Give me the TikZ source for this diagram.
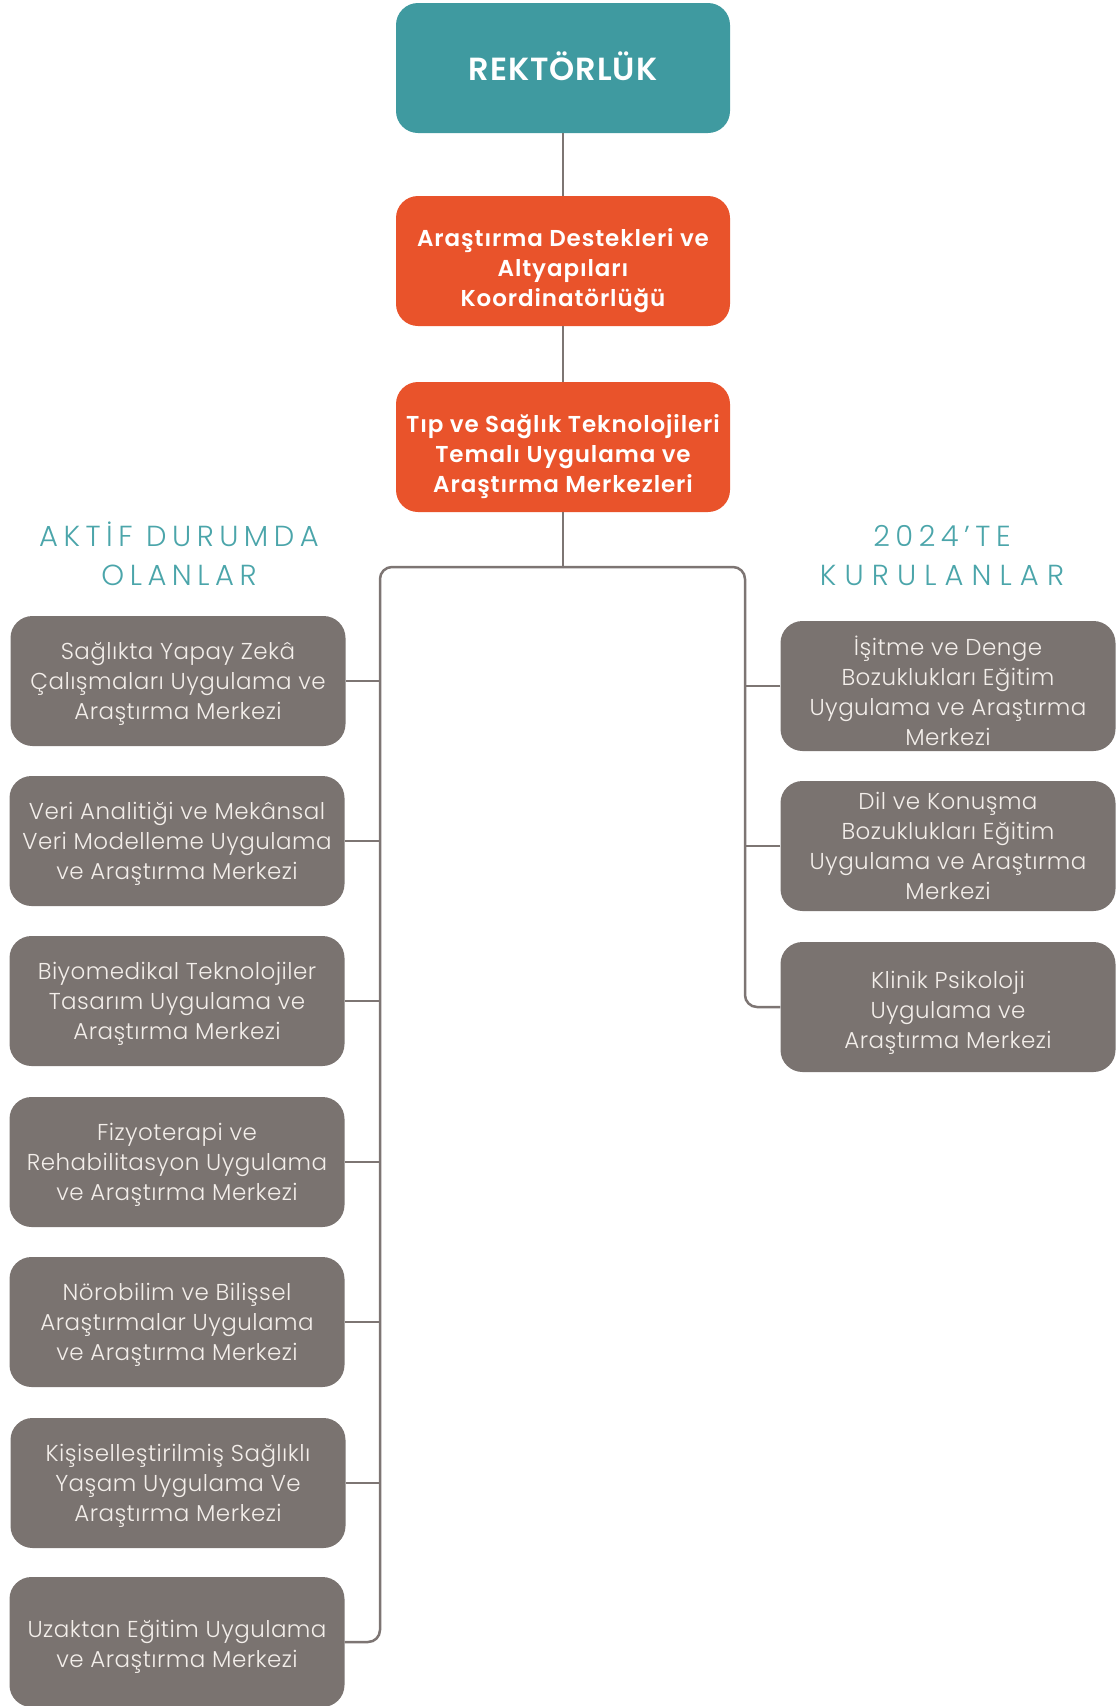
\documentclass[tikz,border=0pt]{standalone}
\usepackage{fontspec}
\setmainfont{Poppins}
\newfontfamily\lightfont{Poppins Light}[LetterSpace=2]
\newfontfamily\semifont{Poppins SemiBold}[LetterSpace=4]
\newfontfamily\rektfont{Poppins SemiBold}[LetterSpace=3]
\newfontfamily\headfont{Poppins Light}[LetterSpace=19]
\newfontfamily\wideheadfont{Poppins Light}[LetterSpace=28]
\newcommand{\lift}[1]{\rule{0pt}{#1pt}}
\definecolor{rektcol}{HTML}{3F9AA0}
\definecolor{orgcol}{HTML}{E9532B}
\definecolor{boxcol}{HTML}{7A7370}
\definecolor{txtcol}{HTML}{F3EEEA}
\definecolor{headcol}{HTML}{4BA5AA}
\definecolor{linecol}{HTML}{7D7573}
\tikzset{
  basebox/.style={rounded corners=22pt, align=center, inner sep=0pt, minimum height=130pt},
  rektbox/.style={basebox, fill=rektcol, text=white, minimum width=334pt, font=\rektfont\fontsize{32}{36}\selectfont},
  unitbox/.style={basebox, fill=orgcol, text=white, minimum width=334pt, font=\semifont\fontsize{23}{30}\selectfont},
  centrebox/.style={basebox, fill=boxcol, text=txtcol, minimum width=335pt, font=\lightfont\fontsize{23}{30}\selectfont},
  headtext/.style={text=headcol, align=center, font=\headfont\fontsize{29}{39}\selectfont},
  conn/.style={draw=linecol, line width=2.5pt}
}
\begin{document}
\begin{tikzpicture}[x=1pt,y=-1pt]
\useasboundingbox (0,0) rectangle (1116,1706);
\node[rektbox] (rekt) at (563,68) {\raisebox{3pt}{REKTÖRLÜK}};
\node[unitbox] (adak) at (563,261) {\lift{37}Araştırma Destekleri ve\\Altyapıları\\Koordinatörlüğü};
\node[unitbox] (tsm) at (563,447) {\lift{37}Tıp ve Sağlık Teknolojileri\\Temalı Uygulama ve\\Araştırma Merkezleri};

\node[headtext] (aktif) at (179,554) {AKTİF DURUMDA\\OLANLAR};
\node[headtext] (yeni) at (942,556) {2024’TE\\\wideheadfont KURULANLAR};

\node[centrebox] (l1) at (178,681) {\lift{22}Sağlıkta Yapay Zekâ\\Çalışmaları Uygulama ve\\Araştırma Merkezi};
\node[centrebox] (l2) at (177,841) {\lift{22}Veri Analitiği ve Mekânsal\\Veri Modelleme Uygulama\\ve Araştırma Merkezi};
\node[centrebox] (l3) at (177,1001) {\lift{22}Biyomedikal Teknolojiler\\Tasarım Uygulama ve\\Araştırma Merkezi};
\node[centrebox] (l4) at (177,1162) {\lift{22}Fizyoterapi ve\\Rehabilitasyon Uygulama\\ve Araştırma Merkezi};
\node[centrebox] (l5) at (177,1322) {\lift{22}Nörobilim ve Bilişsel\\Araştırmalar Uygulama\\ve Araştırma Merkezi};
\node[centrebox] (l6) at (178,1483) {\lift{22}Kişiselleştirilmiş Sağlıklı\\Yaşam Uygulama Ve\\Araştırma Merkezi};
\node[centrebox] (l7) at (177,1642) {\lift{26}Uzaktan Eğitim Uygulama\\ve Araştırma Merkezi};

\node[centrebox] (r1) at (948,686) {\lift{29}İşitme ve Denge\\Bozuklukları Eğitim\\Uygulama ve Araştırma\\Merkezi};
\node[centrebox] (r2) at (948,846) {Dil ve Konuşma\\Bozuklukları Eğitim\\Uygulama ve Araştırma\\Merkezi};
\node[centrebox] (r3) at (948,1007) {\lift{28}Klinik Psikoloji\\Uygulama ve\\Araştırma Merkezi};

\coordinate (hub) at (563,567);
\coordinate (lbus) at (380,567);
\coordinate (rbus) at (745,567);

\draw[conn] (rekt) -- (adak);
\draw[conn] (adak) -- (tsm);
\draw[conn] (tsm) -- (hub);
\draw[conn,rounded corners=12pt] (hub) -- (lbus) |- (l7.east);
\draw[conn,rounded corners=12pt] (hub) -- (rbus) |- (r3.west);
\foreach \n in {1,...,6}
  \draw[conn] (l\n.east) -- (l\n.east -| lbus);
\foreach \n in {1,2}
  \draw[conn] (r\n.west) -- (r\n.west -| rbus);
\end{tikzpicture}
\end{document}
